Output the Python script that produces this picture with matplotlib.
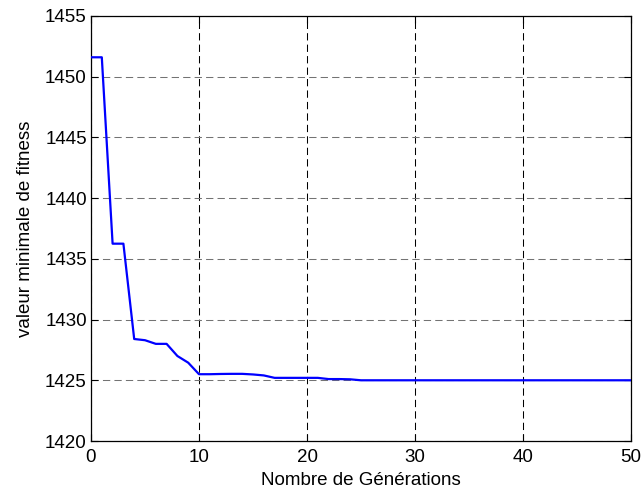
import matplotlib
matplotlib.use("Agg")
import matplotlib.pyplot as plt

# best fitness per generation
generations = list(range(51))
fitness_head = [1451.6, 1451.6, 1436.25, 1436.25, 1428.4, 1428.3, 1428.0, 1428.0,
                1427.0, 1426.45, 1425.5, 1425.5, 1425.52, 1425.53, 1425.53, 1425.48,
                1425.4, 1425.2, 1425.2, 1425.2, 1425.2, 1425.2, 1425.1, 1425.1,
                1425.08, 1425.0]
fitness_tail = [1425.0] * 25
fitness = fitness_head + fitness_tail

x_ticks = [0, 10, 20, 30, 40, 50]
y_ticks = [1420, 1425, 1430, 1435, 1440, 1445, 1450, 1455]

plt.rcParams["font.family"] = ["Liberation Sans", "DejaVu Sans"]
fs = 13.5

fig = plt.figure(figsize=(6.44, 4.93), dpi=100)
ax = fig.add_axes([91 / 644, 52 / 493, 540 / 644, 425 / 493])

ax.plot(generations, fitness, color="#0000ff", linewidth=1.6, zorder=3)

ax.set_xlim(0, 50)
ax.set_ylim(1420, 1455)
ax.set_xticks(x_ticks)
ax.set_yticks(y_ticks)

# matlab style grid: dashed black
ax.xaxis.grid(True, color="black", linestyle=(0, (7, 4)), linewidth=0.75)
ax.yaxis.grid(True, color="0.45", linestyle=(0, (7, 4)), linewidth=0.75)
ax.set_axisbelow(True)

ax.tick_params(direction="in", length=5, width=0.8, top=True, right=True,
               labelsize=fs)
ax.tick_params(axis="x", pad=6)
ax.tick_params(axis="y", pad=3)
for sp in ax.spines.values():
    sp.set_linewidth(0.9)

ax.set_xlabel("Nombre de Générations", fontsize=fs, labelpad=4)
ax.set_ylabel("valeur minimale de fitness", fontsize=fs, labelpad=8)

fig.savefig("out.png", dpi=100)
plt.close(fig)
